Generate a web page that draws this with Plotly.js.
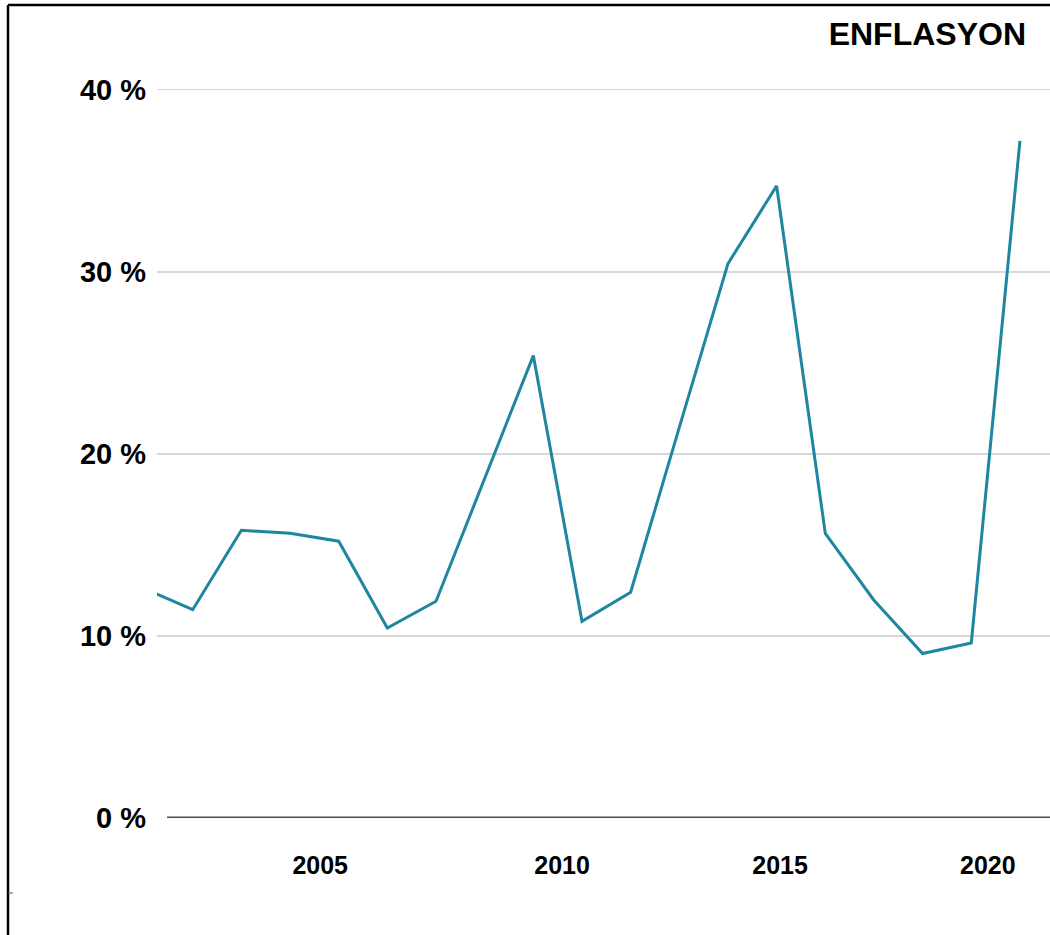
<!DOCTYPE html>
<html>
<head>
<meta charset="utf-8">
<script src="https://cdn.plot.ly/plotly-3.0.1.min.js"></script>
<style>
  html, body { margin: 0; padding: 0; background: #ffffff; }
  #chart { width: 1050px; height: 935px; }
</style>
</head>
<body>
<div id="chart"></div>
<script>
// Data
var years = [2002, 2003, 2004, 2005, 2006, 2007, 2008, 2009, 2010, 2011, 2012, 2013, 2014, 2015, 2016, 2017, 2018, 2019, 2020];
var inflation = [12.6, 11.44, 15.80, 15.64, 15.20, 10.43, 11.90, 18.65, 25.39, 10.80, 12.40, 21.45, 30.44, 34.71, 15.63, 11.96, 9.03, 9.61, 37.18];
var xTickPositions = [2005.62, 2010.59, 2015.07, 2019.34];
var xTickLabels = ['2005', '2010', '2015', '2020'];
var yTickValues = [0, 10, 20, 30, 40];
var yTickLabels = ['0 %', '10 %', '20 %', '30 %', '40 %'];
var chartTitle = 'ENFLASYON';

var FONT = '"Liberation Sans", Arial, Helvetica, sans-serif';

var trace = {
  x: years,
  y: inflation,
  type: 'scatter',
  mode: 'lines',
  line: { color: '#1f86a0', width: 3 },
  hoverinfo: 'x+y',
  showlegend: false
};

var layout = {
  width: 1050,
  height: 935,
  paper_bgcolor: '#ffffff',
  plot_bgcolor: '#ffffff',
  margin: { l: 157, r: 0, t: 40, b: 117 },
  showlegend: false,
  title: {
    text: chartTitle,
    xref: 'container', yref: 'container',
    x: 1026 / 1050, xanchor: 'right',
    y: 1 - 34 / 935, yanchor: 'middle',
    font: { family: FONT, size: 32, color: '#000000', weight: 'bold' }
  },
  xaxis: {
    range: [2002.266, 2020.618],
    showgrid: false,
    zeroline: false,
    showline: false,
    ticks: '',
    tickmode: 'array',
    tickvals: xTickPositions,
    ticktext: xTickLabels,
    ticklabelstandoff: 30,
    tickfont: { family: FONT, size: 25, color: '#000000', weight: 'bold' },
    fixedrange: true
  },
  yaxis: {
    range: [0, 42.72],
    showgrid: true,
    gridcolor: '#d8d8d8',
    gridwidth: 1.8,
    zeroline: false,
    showline: false,
    ticks: '',
    tickmode: 'array',
    tickvals: yTickValues,
    ticktext: yTickLabels,
    ticklabelstandoff: 10,
    tickfont: { family: FONT, size: 29, color: '#000000', weight: 'bold' },
    fixedrange: true
  },
  shapes: [
    // dark baseline at 0 %
    { type: 'line', xref: 'paper', yref: 'y', x0: 10 / 893, x1: 1, y0: 0, y1: 0,
      line: { color: '#4d4d4d', width: 3.2 }, layer: 'above' },
    // outer frame: top edge
    { type: 'line', xref: 'paper', yref: 'paper', x0: -149 / 893, x1: 1, y0: (818 - 5) / 778, y1: (818 - 5) / 778,
      line: { color: '#000000', width: 2.5 } },
    // outer frame: left edge
    { type: 'line', xref: 'paper', yref: 'paper', x0: -149 / 893, x1: -149 / 893, y0: (818 - 5) / 778, y1: (818 - 940) / 778,
      line: { color: '#000000', width: 2.5 } },
    // small mark on the left frame
    { type: 'line', xref: 'paper', yref: 'paper', x0: -149 / 893, x1: -144 / 893, y0: (818 - 893) / 778, y1: (818 - 893) / 778,
      line: { color: '#555555', width: 1 } }
  ]
};

Plotly.newPlot('chart', [trace], layout, { displayModeBar: false, staticPlot: true });
</script>
</body>
</html>
